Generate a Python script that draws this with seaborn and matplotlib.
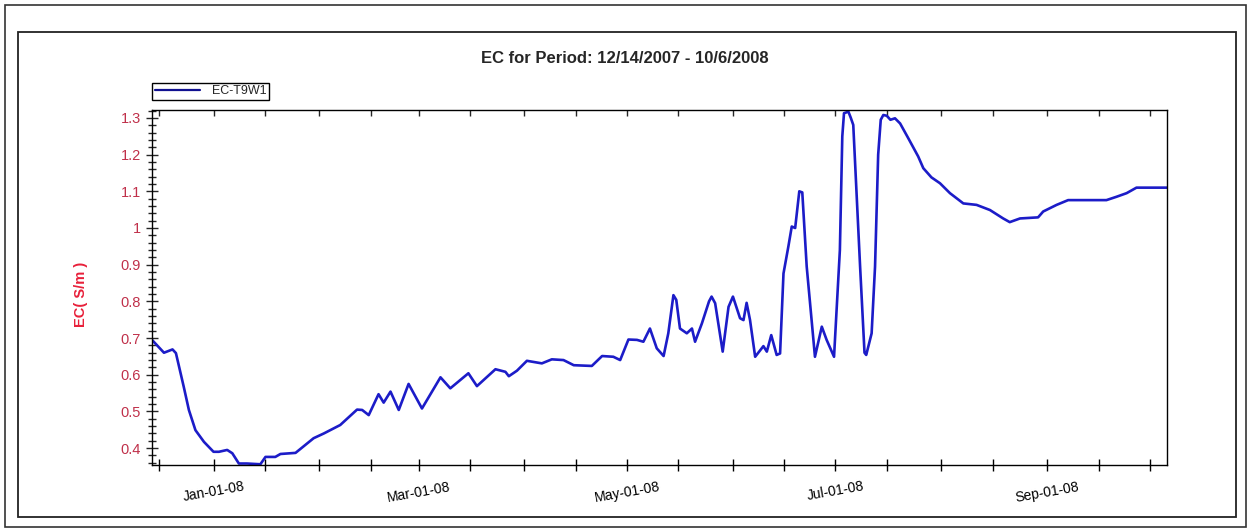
import pandas as pd
import matplotlib.pyplot as plt
import matplotlib.dates as mdates
import matplotlib.ticker as mticker
from matplotlib.patches import Rectangle
import seaborn as sns

# readings of EC-T9W1 (S/m)
times = [
    '2007-12-14 00:00', '2007-12-17 12:00', '2007-12-20 00:00', '2007-12-21 00:00',
    '2007-12-23 07:00', '2007-12-24 19:00', '2007-12-26 17:00', '2007-12-29 05:00',
    '2008-01-01 00:00', '2008-01-02 14:00', '2008-01-05 00:00', '2008-01-06 12:00',
    '2008-01-08 10:00', '2008-01-10 19:00', '2008-01-14 17:00', '2008-01-16 05:00',
    '2008-01-19 02:00', '2008-01-20 14:00', '2008-01-25 00:00', '2008-01-30 07:00',
    '2008-02-02 07:00', '2008-02-07 02:00', '2008-02-12 00:00', '2008-02-13 12:00',
    '2008-02-15 10:00', '2008-02-18 07:00', '2008-02-19 19:00', '2008-02-21 19:00',
    '2008-02-24 05:00', '2008-02-27 02:00', '2008-03-02 00:00', '2008-03-07 10:00',
    '2008-03-10 07:00', '2008-03-15 14:00', '2008-03-18 02:00', '2008-03-23 12:00',
    '2008-03-26 10:00', '2008-03-27 10:00', '2008-03-29 19:00', '2008-04-01 17:00',
    '2008-04-06 02:00', '2008-04-09 00:00', '2008-04-12 10:00', '2008-04-15 10:00',
    '2008-04-20 17:00', '2008-04-23 17:00', '2008-04-27 00:00', '2008-04-29 00:00',
    '2008-05-01 10:00', '2008-05-03 22:00', '2008-05-05 19:00', '2008-05-07 17:00',
    '2008-05-09 17:00', '2008-05-11 17:00', '2008-05-13 02:00', '2008-05-14 14:00',
    '2008-05-15 10:00', '2008-05-16 12:00', '2008-05-18 12:00', '2008-05-20 00:00',
    '2008-05-20 22:00', '2008-05-22 22:00', '2008-05-25 00:00', '2008-05-25 18:00',
    '2008-05-26 19:00', '2008-05-29 00:00', '2008-05-30 17:00', '2008-06-01 00:00',
    '2008-06-03 02:00', '2008-06-04 02:00', '2008-06-05 00:00', '2008-06-06 00:00',
    '2008-06-07 12:00', '2008-06-09 22:00', '2008-06-10 22:00', '2008-06-12 05:00',
    '2008-06-13 19:00', '2008-06-14 19:00', '2008-06-15 19:00', '2008-06-17 05:00',
    '2008-06-18 05:00', '2008-06-19 05:00', '2008-06-20 10:00', '2008-06-21 07:00',
    '2008-06-22 14:00', '2008-06-25 00:00', '2008-06-27 00:00', '2008-06-28 10:00',
    '2008-06-30 14:00', '2008-07-02 07:00', '2008-07-03 00:00', '2008-07-03 12:00',
    '2008-07-04 19:00', '2008-07-05 12:00', '2008-07-06 05:00', '2008-07-08 05:00',
    '2008-07-09 12:00', '2008-07-10 00:00', '2008-07-11 14:00', '2008-07-12 14:00',
    '2008-07-13 12:00', '2008-07-14 06:00', '2008-07-15 00:00', '2008-07-16 00:00',
    '2008-07-17 02:00', '2008-07-18 10:00', '2008-07-19 22:00', '2008-07-22 07:00',
    '2008-07-25 05:00', '2008-07-26 17:00', '2008-07-29 02:00', '2008-07-31 14:00',
    '2008-08-03 12:00', '2008-08-07 10:00', '2008-08-11 07:00', '2008-08-15 05:00',
    '2008-08-19 02:00', '2008-08-21 00:00', '2008-08-24 00:00', '2008-08-29 07:00',
    '2008-08-30 19:00', '2008-09-03 17:00', '2008-09-07 02:00', '2008-09-18 07:00',
    '2008-09-21 05:00', '2008-09-24 05:00', '2008-09-27 02:00', '2008-10-06 00:00',
]
ec = [
    0.695, 0.660, 0.669, 0.659,
    0.567, 0.504, 0.449, 0.417,
    0.390, 0.390, 0.395, 0.386,
    0.358, 0.358, 0.356, 0.376,
    0.376, 0.384, 0.387, 0.427,
    0.440, 0.463, 0.505, 0.504,
    0.490, 0.547, 0.524, 0.554,
    0.504, 0.575, 0.508, 0.593,
    0.563, 0.604, 0.569, 0.615,
    0.608, 0.596, 0.611, 0.638,
    0.631, 0.642, 0.640, 0.626,
    0.624, 0.651, 0.649, 0.640,
    0.696, 0.695, 0.690, 0.726,
    0.672, 0.651, 0.713, 0.817,
    0.804, 0.726, 0.713, 0.726,
    0.690, 0.740, 0.800, 0.813,
    0.795, 0.663, 0.785, 0.813,
    0.754, 0.749, 0.796, 0.749,
    0.649, 0.678, 0.663, 0.708,
    0.654, 0.658, 0.876, 0.949,
    1.004, 1.000, 1.100, 1.097,
    0.895, 0.649, 0.731, 0.695,
    0.649, 0.940, 1.250, 1.313,
    1.317, 1.300, 1.281, 0.895,
    0.660, 0.654, 0.713, 0.895,
    1.200, 1.295, 1.308, 1.306,
    1.295, 1.299, 1.285, 1.245,
    1.195, 1.163, 1.138, 1.122,
    1.095, 1.067, 1.063, 1.049,
    1.026, 1.016, 1.026, 1.029,
    1.045, 1.063, 1.076, 1.076,
    1.085, 1.095, 1.110, 1.110,
]
series_name = 'EC-T9W1'
labelled_months = [1, 3, 5, 7, 9]

df = pd.DataFrame({'time': pd.to_datetime(times), 'EC': ec, 'series': series_name})

sns.set_style('white')
plt.rcParams['font.family'] = ['Liberation Sans', 'DejaVu Sans']

fig = plt.figure(figsize=(12.49, 5.29), dpi=100)
ax = fig.add_axes([0.1217, 0.1210, 0.8126, 0.6720])

sns.lineplot(data=df, x='time', y='EC', hue='series', palette=['#1c1cc8'],
             linewidth=1.9, ax=ax)

ax.set_xlim(pd.Timestamp('2007-12-14'), pd.Timestamp('2008-10-06'))
ax.set_ylim(0.354, 1.323)

# x axis: ticks on the 1st and 16th, labels every other month
ax.xaxis.set_major_locator(mdates.DayLocator(bymonthday=[1, 16]))


def date_label(x, pos):
    d = mdates.num2date(x)
    if d.day == 1 and d.month in labelled_months:
        return d.strftime('%b-%d-%y')
    return ''


ax.xaxis.set_major_formatter(mticker.FuncFormatter(date_label))
ax.tick_params(axis='x', which='major', direction='inout', length=9, width=1,
               labelsize=10, pad=6, labelrotation=10, colors='black', bottom=True)

# inward ticks along the top edge
top = ax.secondary_xaxis('top')
top.xaxis.set_major_locator(mdates.DayLocator(bymonthday=[1, 16]))
top.tick_params(direction='in', length=4, width=1, labeltop=False)
top.spines['top'].set_visible(False)

# y axis
ax.yaxis.set_major_locator(mticker.MultipleLocator(0.1))
ax.yaxis.set_minor_locator(mticker.MultipleLocator(0.02))
ax.yaxis.set_major_formatter(mticker.FuncFormatter(lambda v, p: f'{v:g}'))
ax.tick_params(axis='y', which='major', direction='inout', length=9, width=1,
               labelsize=10.5, labelcolor='#c0304a', left=True)
ax.tick_params(axis='y', which='minor', direction='inout', length=6, width=1, left=True)

for s in ax.spines.values():
    s.set_color('black')
    s.set_linewidth(1)

ax.set_xlabel('')
ax.set_ylabel('EC( S/m )', color='#e8203a', fontsize=10.5, fontweight='bold')
ax.yaxis.set_label_coords(-0.063, 0.48)

leg = ax.legend(loc='lower left', bbox_to_anchor=(0, 1.027), borderaxespad=0,
                fontsize=9, frameon=True, fancybox=False, framealpha=1,
                edgecolor='black', handlelength=3.6, borderpad=0.2,
                handletextpad=1.0)
leg.get_frame().set_linewidth(1)
for h in leg.get_lines():
    h.set_color('#101090')
    h.set_linewidth(1.6)

fig.text(0.5, 0.889, 'EC for Period: 12/14/2007 - 10/6/2008', ha='center',
         va='center', fontsize=12, fontweight='bold')

# outer and inner frames
fig.patches.append(Rectangle((5 / 1249, 2 / 529), 1241 / 1249, 522 / 529,
                             transform=fig.transFigure, fill=False,
                             edgecolor='#333333', linewidth=1.2))
fig.patches.append(Rectangle((18 / 1249, 12 / 529), 1218 / 1249, 485 / 529,
                             transform=fig.transFigure, fill=False,
                             edgecolor='#222222', linewidth=1.3))

plt.savefig('out.png', dpi=100)
